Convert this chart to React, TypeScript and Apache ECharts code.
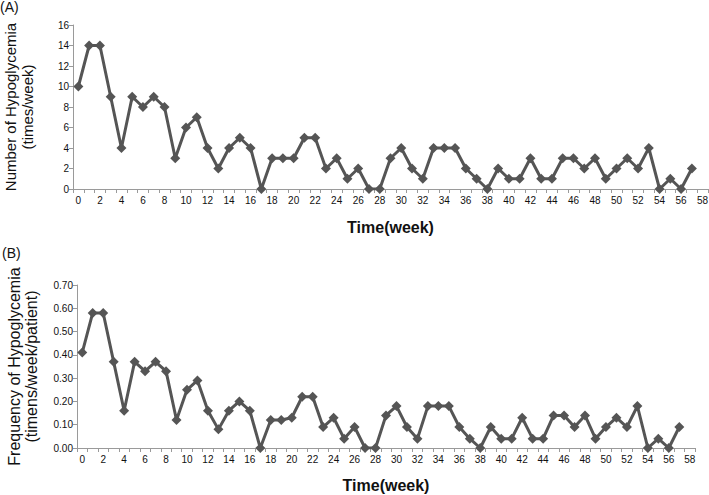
import React, { useEffect, useRef } from "react";
import * as echarts from "echarts";

const weeks = [
  "0", "1", "2", "3", "4", "5", "6", "7", "8", "9",
  "10", "11", "12", "13", "14", "15", "16", "17", "18", "19",
  "20", "21", "22", "23", "24", "25", "26", "27", "28", "29",
  "30", "31", "32", "33", "34", "35", "36", "37", "38", "39",
  "40", "41", "42", "43", "44", "45", "46", "47", "48", "49",
  "50", "51", "52", "53", "54", "55", "56", "57", "58",
];

// (A) Number of hypoglycemia, times/week, weeks 0..57
const hypoCount = [
  10, 14, 14, 9, 4, 9, 8, 9, 8, 3,
  6, 7, 4, 2, 4, 5, 4, 0, 3, 3,
  3, 5, 5, 2, 3, 1, 2, 0, 0, 3,
  4, 2, 1, 4, 4, 4, 2, 1, 0, 2,
  1, 1, 3, 1, 1, 3, 3, 2, 3, 1,
  2, 3, 2, 4, 0, 1, 0, 2,
];

// (B) Frequency of hypoglycemia, times/week/patient, weeks 0..57
const hypoFreq = [
  0.41, 0.58, 0.58, 0.37, 0.16, 0.37, 0.33, 0.37, 0.33, 0.12,
  0.25, 0.29, 0.16, 0.08, 0.16, 0.2, 0.16, 0.0, 0.12, 0.12,
  0.13, 0.22, 0.22, 0.09, 0.13, 0.04, 0.09, 0.0, 0.0, 0.14,
  0.18, 0.09, 0.04, 0.18, 0.18, 0.18, 0.09, 0.04, 0.0, 0.09,
  0.04, 0.04, 0.13, 0.04, 0.04, 0.14, 0.14, 0.09, 0.14, 0.04,
  0.09, 0.13, 0.09, 0.18, 0.0, 0.04, 0.0, 0.09,
];

const FONT = "'Liberation Sans', Arial, sans-serif";
const AXIS_GRAY = "#9a9a9a";
const LINE_COLOR = "#555555";

export default function App() {
  const ref = useRef<HTMLDivElement>(null);

  useEffect(() => {
    if (!ref.current) return;
    const chart = echarts.init(ref.current, null, { renderer: "svg" });

    const xAxisBase = (gridIndex: number, nameGap: number) => ({
      type: "category" as const,
      gridIndex,
      data: weeks,
      boundaryGap: true,
      name: "Time(week)",
      nameLocation: "middle" as const,
      nameGap,
      nameTextStyle: { fontFamily: FONT, fontSize: 16, fontWeight: "bold", color: "#111" },
      axisLine: { lineStyle: { color: AXIS_GRAY, width: 1 } },
      axisTick: { show: true, interval: 0, length: 4, lineStyle: { color: AXIS_GRAY } },
      axisLabel: { interval: 1, fontFamily: FONT, fontSize: 10, color: "#111", margin: 6 },
      splitLine: { show: false },
    });

    const yAxisBase = (
      gridIndex: number,
      name: string,
      max: number,
      interval: number,
      digits: number,
      nameSize: number
    ) => ({
      type: "value" as const,
      gridIndex,
      min: 0,
      max,
      interval,
      name,
      nameLocation: "middle" as const,
      nameRotate: 90,
      nameGap: 37,
      nameTextStyle: { fontFamily: FONT, fontSize: nameSize, color: "#111", lineHeight: 17 },
      axisLine: { show: true, lineStyle: { color: AXIS_GRAY, width: 1 } },
      axisTick: { show: true, length: 4, lineStyle: { color: AXIS_GRAY } },
      axisLabel: {
        fontFamily: FONT,
        fontSize: 10,
        color: "#111",
        margin: 4,
        formatter: (v: number) => v.toFixed(digits),
      },
      splitLine: { show: false },
    });

    const seriesBase = {
      type: "line" as const,
      symbol: "diamond",
      symbolSize: 10,
      showAllSymbol: true,
      lineStyle: { color: LINE_COLOR, width: 3 },
      itemStyle: { color: LINE_COLOR },
      silent: true,
    };

    chart.setOption({
      animation: false,
      backgroundColor: "#ffffff",
      title: [
        { text: "(A)", left: 0, top: 0, textStyle: { fontFamily: FONT, fontSize: 14, fontWeight: "normal", color: "#111" }, padding: 0 },
        { text: "(B)", left: 2, top: 246, textStyle: { fontFamily: FONT, fontSize: 14, fontWeight: "normal", color: "#111" }, padding: 0 },
      ],
      grid: [
        { left: 73, right: 1, top: 25, height: 164, containLabel: false, outerBoundsMode: "none" },
        { left: 77, right: 14, top: 285, height: 163, containLabel: false, outerBoundsMode: "none" },
      ],
      xAxis: [xAxisBase(0, 30), xAxisBase(1, 29)],
      yAxis: [
        yAxisBase(0, "Number of Hypoglycemia\n(times/week)", 16, 2, 0, 15),
        yAxisBase(1, "Frequency of Hypoglycemia\n(timens/week/patient)", 0.7, 0.1, 2, 16),
      ],
      series: [
        { ...seriesBase, name: "Number", xAxisIndex: 0, yAxisIndex: 0, data: hypoCount },
        { ...seriesBase, name: "Frequency", xAxisIndex: 1, yAxisIndex: 1, data: hypoFreq },
      ],
    });

    return () => {
      chart.dispose();
    };
  }, []);

  return (
    <div
      ref={ref}
      style={{ position: "fixed", left: 0, top: 0, width: 709, height: 495, background: "#fff" }}
    />
  );
}
